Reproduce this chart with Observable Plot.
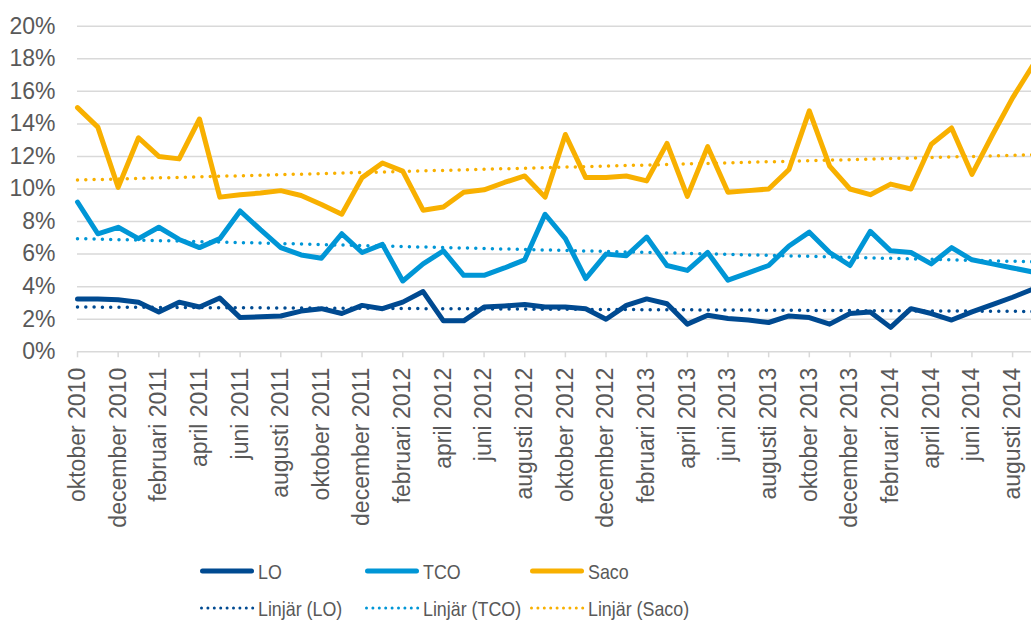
<!DOCTYPE html>
<html><head><meta charset="utf-8">
<script src="https://cdn.jsdelivr.net/npm/d3@7"></script>
<script src="https://cdn.jsdelivr.net/npm/@observablehq/plot@0.6"></script>
<style>
html,body{margin:0;padding:0;background:#fff;overflow:hidden;width:1031px;height:626px}
#chart svg{display:block;overflow:hidden}
</style></head><body><div id="chart"></div><script>
const months = [
 "oktober 2010","november 2010","december 2010","januari 2011","februari 2011","mars 2011","april 2011","maj 2011","juni 2011","juli 2011","augusti 2011","september 2011",
 "oktober 2011","november 2011","december 2011","januari 2012","februari 2012","mars 2012","april 2012","maj 2012","juni 2012","juli 2012","augusti 2012","september 2012",
 "oktober 2012","november 2012","december 2012","januari 2013","februari 2013","mars 2013","april 2013","maj 2013","juni 2013","juli 2013","augusti 2013","september 2013",
 "oktober 2013","november 2013","december 2013","januari 2014","februari 2014","mars 2014","april 2014","maj 2014","juni 2014","juli 2014","augusti 2014","september 2014"
];
const LO = [3.25,3.25,3.2,3.05,2.45,3.05,2.75,3.3,2.1,2.15,2.2,2.5,
 2.65,2.35,2.85,2.65,3.05,3.7,1.9,1.9,2.75,2.82,2.9,2.75,
 2.75,2.65,2.0,2.85,3.25,2.95,1.7,2.25,2.05,1.95,1.8,2.2,
 2.1,1.7,2.35,2.45,1.5,2.65,2.35,1.95,2.45,2.9,3.35,3.85];
const TCO = [9.2,7.25,7.65,6.95,7.65,6.9,6.4,6.95,8.65,7.5,6.4,5.95,
 5.75,7.25,6.1,6.6,4.35,5.4,6.2,4.7,4.7,5.15,5.65,8.45,
 6.95,4.5,6.0,5.9,7.05,5.3,5.0,6.1,4.4,4.85,5.3,6.5,
 7.35,6.1,5.3,7.4,6.2,6.1,5.4,6.4,5.65,5.4,5.15,4.9];
const Saco = [15.0,13.8,10.1,13.15,12.0,11.85,14.3,9.5,9.65,9.75,9.9,9.6,
 9.05,8.45,10.7,11.6,11.1,8.7,8.9,9.8,9.95,10.4,10.8,9.5,
 13.35,10.7,10.7,10.8,10.5,12.8,9.55,12.6,9.8,9.9,10.0,11.2,
 14.8,11.4,10.0,9.65,10.3,10.0,12.75,13.75,10.9,13.3,15.6,17.6];
// linear trend lines (Excel "Linjär"), start and end values
const trendIdx = [0, 47];
const trendLO = [2.75, 2.48];
const trendTCO = [6.95, 5.53];
const trendSaco = [10.55, 12.1];

const seriesNames = ["LO","TCO","Saco"];
const trendNames = ["Linjär (LO)","Linjär (TCO)","Linjär (Saco)"];
const seriesColors = ["#004a91","#0096d6","#f8b000"];
const yTicks = [0,2,4,6,8,10,12,14,16,18,20];
const xTickIdx = months.map((m,i)=>i).filter(i=>i%2===0);

const rows = [];
[LO,TCO,Saco].forEach((arr,k)=>arr.forEach((v,i)=>rows.push({serie:seriesNames[k], i, v})));
const trendRows = [];
[trendLO,trendTCO,trendSaco].forEach((arr,k)=>arr.forEach((v,j)=>trendRows.push({serie:seriesNames[k], i:trendIdx[j], v})));

const font = "'Liberation Sans', Arial, sans-serif";
const plot = Plot.plot({
  width:1031, height:545, marginLeft:77, marginRight:0, marginTop:25.7, marginBottom:193.7,
  style:{fontFamily:font, background:"#fff", overflow:"hidden"},
  x:{type:"linear", domain:[0,46.93], axis:null},
  y:{domain:[0,20], axis:null},
  color:{domain:seriesNames, range:seriesColors},
  marks:[
    Plot.gridY(yTicks,{stroke:"#d9d9d9", strokeOpacity:1, strokeWidth:1.5}),
    Plot.axisY(yTicks,{label:null, tickSize:0, tickPadding:22, tickFormat:d=>d+"%", fontSize:23, fill:"#595959"}),
    Plot.axisX(xTickIdx,{label:null, tickSize:6, tickPadding:10, tickRotate:-90, tickFormat:i=>months[i], fontSize:23, fill:"#595959", stroke:"#d9d9d9", strokeWidth:1.5}),
    Plot.lineY(rows,{x:"i", y:"v", z:"serie", stroke:"serie", strokeWidth:5, strokeLinejoin:"round"}),
    Plot.lineY(trendRows,{x:"i", y:"v", z:"serie", stroke:"serie", strokeWidth:3.5, strokeDasharray:"0 8.3", strokeLinecap:"round"})
  ]
});
document.getElementById("chart").appendChild(plot);

// legend below the plot
const leg = d3.create("svg").attr("width",1031).attr("height",81).style("display","block").style("font-family",font);
const cols = [200,365,530];
seriesNames.forEach((n,k)=>{
  const x = cols[k];
  leg.append("line").attr("x1",x+2.5).attr("x2",x+51.5).attr("y1",26).attr("y2",26)
    .attr("stroke",seriesColors[k]).attr("stroke-width",5).attr("stroke-linecap","round");
  leg.append("line").attr("x1",x+1.5).attr("x2",x+53).attr("y1",63).attr("y2",63)
    .attr("stroke",seriesColors[k]).attr("stroke-width",3).attr("stroke-linecap","round").attr("stroke-dasharray","0 6.4");
  const tx = x+58;
  leg.append("text").attr("x",tx).attr("y",34).attr("fill","#595959").attr("font-size",21)
    .attr("transform",`translate(${tx},0) scale(0.85,1) translate(${-tx},0)`).text(n);
  leg.append("text").attr("x",tx).attr("y",71).attr("fill","#595959").attr("font-size",21)
    .attr("transform",`translate(${tx},0) scale(0.85,1) translate(${-tx},0)`).text(trendNames[k]);
});
document.getElementById("chart").appendChild(leg.node());
</script></body></html>
